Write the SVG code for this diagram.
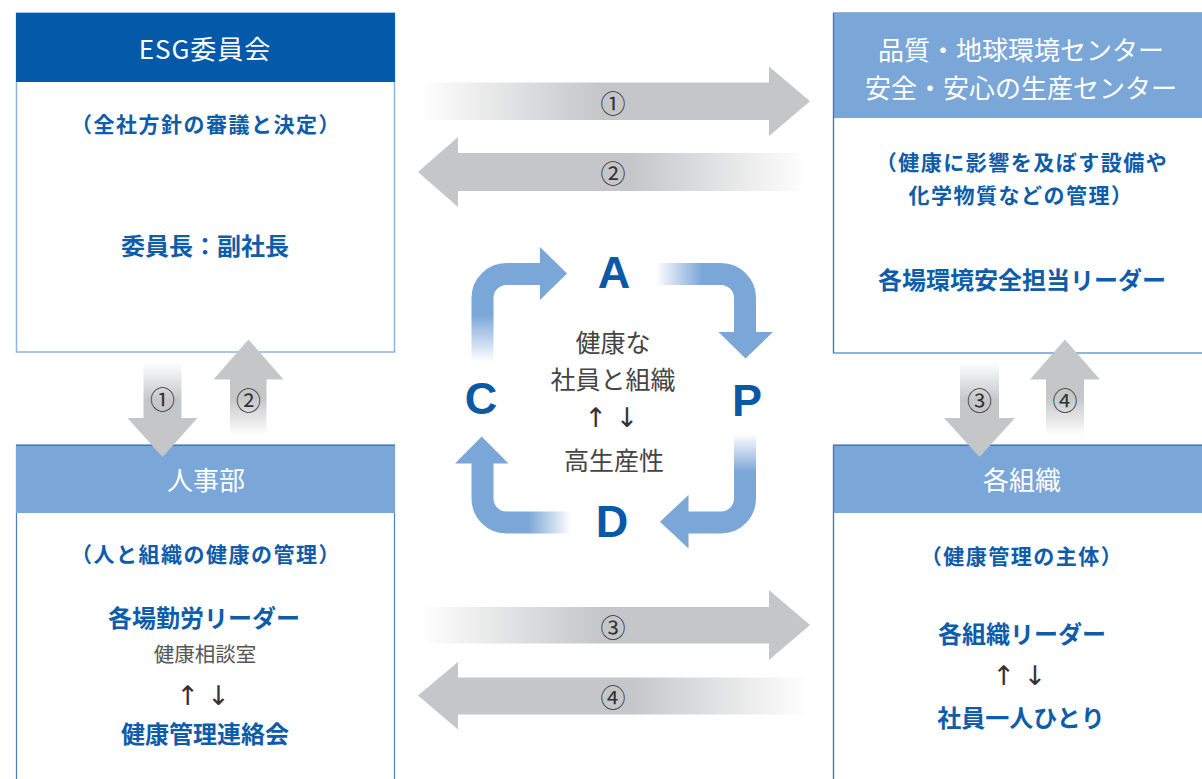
<svg xmlns="http://www.w3.org/2000/svg" width="1202" height="779" viewBox="0 0 1202 779">
<style>
text{font-family:"Noto Sans CJK JP","Noto Sans",sans-serif;text-anchor:middle;dominant-baseline:central}
.hdr{font-size:26px;fill:#fff;font-weight:400}
.sub{font-size:21px;fill:#0E5CAA;font-weight:700;letter-spacing:1.5px}
.main{font-size:24px;fill:#0E5CAA;font-weight:700}
.gray{font-size:20.5px;fill:#555}
.arr{font-family:"DejaVu Sans",sans-serif;font-size:27px;fill:#333}
.ctr{font-size:25px;fill:#444}
.num{font-size:25px;fill:#333}
.pdca{font-family:"Liberation Sans",Arial,sans-serif;font-weight:700;font-size:45px;fill:#0B58A7}
.body1{fill:#fff;stroke:#8DB4DE;stroke-width:1.5}
.body2{fill:#fff;stroke:#4A80C4;stroke-width:1.2}
.cyc{fill:none;stroke-width:22}
</style>
<defs>
<linearGradient id="gR" gradientUnits="userSpaceOnUse" x1="420" y1="0" x2="600" y2="0"><stop offset="0" stop-color="#C5C6C8" stop-opacity="0"/><stop offset="1" stop-color="#C5C6C8"/></linearGradient>
<linearGradient id="gL" gradientUnits="userSpaceOnUse" x1="808" y1="0" x2="630" y2="0"><stop offset="0" stop-color="#C5C6C8" stop-opacity="0"/><stop offset="1" stop-color="#C5C6C8"/></linearGradient>
<linearGradient id="gD" gradientUnits="userSpaceOnUse" x1="0" y1="362" x2="0" y2="400"><stop offset="0" stop-color="#C5C6C8" stop-opacity="0"/><stop offset="1" stop-color="#C5C6C8"/></linearGradient>
<linearGradient id="gU" gradientUnits="userSpaceOnUse" x1="0" y1="435" x2="0" y2="398"><stop offset="0" stop-color="#C5C6C8" stop-opacity="0"/><stop offset="1" stop-color="#C5C6C8"/></linearGradient>
<linearGradient id="cCA" gradientUnits="userSpaceOnUse" x1="0" y1="362" x2="0" y2="315"><stop offset="0" stop-color="#7BA6D8" stop-opacity="0"/><stop offset="1" stop-color="#7BA6D8"/></linearGradient>
<linearGradient id="cAP" gradientUnits="userSpaceOnUse" x1="656" y1="0" x2="702" y2="0"><stop offset="0" stop-color="#7BA6D8" stop-opacity="0"/><stop offset="1" stop-color="#7BA6D8"/></linearGradient>
<linearGradient id="cPD" gradientUnits="userSpaceOnUse" x1="0" y1="434" x2="0" y2="472"><stop offset="0" stop-color="#7BA6D8" stop-opacity="0"/><stop offset="1" stop-color="#7BA6D8"/></linearGradient>
<linearGradient id="cDC" gradientUnits="userSpaceOnUse" x1="571" y1="0" x2="528" y2="0"><stop offset="0" stop-color="#7BA6D8" stop-opacity="0"/><stop offset="1" stop-color="#7BA6D8"/></linearGradient>
</defs>

<g id="esg">
<rect class="body1" x="16.5" y="13" width="378" height="339"/>
<rect x="16" y="13" width="379" height="69" fill="#0459A9"/>
<text class="hdr" x="205" y="47" letter-spacing="1">ESG委員会</text>
<text class="sub" x="206" y="123">（全社方針の審議と決定）</text>
<text class="main" x="205" y="244">委員長：副社長</text>
</g>

<g id="center">
<rect class="body2" x="833.5" y="13" width="380" height="340" stroke="#8DB4DE"/>
<rect x="833" y="13" width="380" height="105" fill="#7BA6D8"/>
<line x1="833.5" y1="13" x2="833.5" y2="353" stroke="#3F78C0" stroke-width="1.2"/>
<text class="hdr" x="1021" y="48">品質・地球環境センター</text>
<text class="hdr" x="1021" y="86">安全・安心の生産センター</text>
<text class="sub" x="1022" y="161">（健康に影響を及ぼす設備や</text>
<text class="sub" x="1021" y="194">化学物質などの管理）</text>
<text class="main" x="1022" y="278">各場環境安全担当リーダー</text>
</g>

<g id="hr">
<rect class="body2" x="16.5" y="445" width="378" height="350"/>
<rect x="16" y="445" width="379" height="68" fill="#7BA6D8"/>
<line x1="16" y1="445.5" x2="395" y2="445.5" stroke="#3F78C0" stroke-width="1.2"/>
<text class="hdr" x="206" y="478">人事部</text>
<text class="sub" x="206" y="553">（人と組織の健康の管理）</text>
<text class="main" x="204" y="616">各場勤労リーダー</text>
<text class="gray" x="205" y="653">健康相談室</text>
<text class="arr" y="695"><tspan x="192">↑</tspan> <tspan x="218.5">↓</tspan></text>
<text class="main" x="205" y="732">健康管理連絡会</text>
</g>

<g id="org">
<rect class="body2" x="833.5" y="445" width="380" height="350"/>
<rect x="833" y="445" width="380" height="68" fill="#7BA6D8"/>
<line x1="833" y1="445.5" x2="1202" y2="445.5" stroke="#3F78C0" stroke-width="1.2"/>
<line x1="833.5" y1="445" x2="833.5" y2="779" stroke="#3F78C0" stroke-width="1.2"/>
<text class="hdr" x="1022" y="478">各組織</text>
<text class="sub" x="1022" y="555">（健康管理の主体）</text>
<text class="main" x="1022" y="632">各組織リーダー</text>
<text class="arr" y="675"><tspan x="1008">↑</tspan> <tspan x="1035">↓</tspan></text>
<text class="main" x="1021" y="716">社員一人ひとり</text>
</g>

<g id="pdca">
<path class="cyc" stroke="url(#cCA)" d="M482.5,362 V298 A24,24 0 0 1 506.5,274 H541"/>
<polygon fill="#7BA6D8" points="540,247 567,273.5 540,300"/>
<path class="cyc" stroke="url(#cAP)" d="M656,274 H721 A24,24 0 0 1 745,298 V333"/>
<polygon fill="#7BA6D8" points="718.5,332 773,332 745.5,358.5"/>
<path class="cyc" stroke="url(#cPD)" d="M745,434 V498.5 A24,24 0 0 1 721,522.5 H687"/>
<polygon fill="#7BA6D8" points="688.5,495 688.5,548.5 660,521.7"/>
<path class="cyc" stroke="url(#cDC)" d="M571,522.5 H506.5 A24,24 0 0 1 482.5,498.5 V462"/>
<polygon fill="#7BA6D8" points="455,463.5 508.5,463.5 481.7,436.5"/>
<text class="pdca" x="614" y="272">A</text>
<text class="pdca" x="747" y="400">P</text>
<text class="pdca" x="612" y="521">D</text>
<text class="pdca" x="481" y="398">C</text>
<text class="ctr" x="613" y="341">健康な</text>
<text class="ctr" x="613" y="378">社員と組織</text>
<text class="arr" y="417"><tspan x="600">↑</tspan> <tspan x="627">↓</tspan></text>
<text class="ctr" x="614" y="459">高生産性</text>
</g>

<g id="connectors">
<path fill="url(#gR)" d="M420,82.5 H769 V66.5 L810,101.2 L769,136 V120 H420 Z"/>
<text class="num" x="613" y="102">①</text>
<path fill="url(#gL)" d="M808,153 H458 V137 L418,172 L458,207 V191 H808 Z"/>
<text class="num" x="613" y="172">②</text>
<path fill="url(#gR)" d="M420,607 H769 V590 L810,625 L769,660 V643.5 H420 Z"/>
<text class="num" x="613" y="626">③</text>
<path fill="url(#gL)" d="M808,677.5 H458 V662 L418,695.5 L458,729.5 V714.5 H808 Z"/>
<text class="num" x="613" y="696">④</text>
<path fill="url(#gD)" d="M143.5,362 V418 H127.5 L162.5,457 L197.5,418 H181.5 V362 Z"/>
<text class="num" x="162.5" y="398">①</text>
<path fill="url(#gU)" d="M230,435 V379.5 H213.5 L248.5,339.5 L283.5,379.5 H266.5 V435 Z"/>
<text class="num" x="248.5" y="399">②</text>
<path fill="url(#gD)" d="M960,362 V418 H944 L979.5,457 L1015,418 H999 V362 Z"/>
<text class="num" x="979.5" y="399">③</text>
<path fill="url(#gU)" d="M1046,435 V379.5 H1030 L1065,339.5 L1100,379.5 H1084 V435 Z"/>
<text class="num" x="1065" y="399">④</text>
</g>
</svg>
